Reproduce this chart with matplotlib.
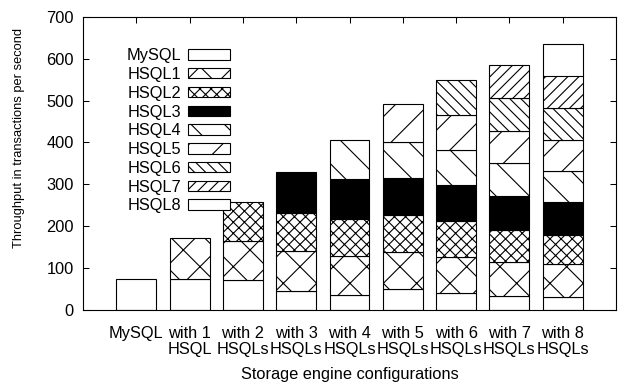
import numpy as np
import matplotlib.pyplot as plt

plt.rcParams['font.family'] = ['Liberation Sans', 'DejaVu Sans']
plt.rcParams['hatch.linewidth'] = 0.8

# DATOS ===================================================================
configs = ['MySQL', 'with 1\nHSQL', 'with 2\nHSQLs', 'with 3\nHSQLs', 'with 4\nHSQLs',
           'with 5\nHSQLs', 'with 6\nHSQLs', 'with 7\nHSQLs', 'with 8\nHSQLs']
names = ['MySQL', 'HSQL1', 'HSQL2', 'HSQL3', 'HSQL4', 'HSQL5', 'HSQL6', 'HSQL7', 'HSQL8']

# throughput of each storage engine (stacked segments)
mysql = [74, 74, 70, 44, 35, 50, 40, 33, 29]
hsql1 = [0, 98, 94, 95, 92, 88, 86, 80, 79]
hsql2 = [0, 0, 94, 93, 90, 87, 85, 78, 71]
hsql3 = [0, 0, 0, 97, 96, 90, 88, 80, 78]
hsql4 = [0, 0, 0, 0, 92, 86, 83, 79, 75]
hsql5 = [0, 0, 0, 0, 0, 91, 84, 78, 74]
hsql6 = [0, 0, 0, 0, 0, 0, 84, 78, 77]
hsql7 = [0, 0, 0, 0, 0, 0, 0, 78, 77]
hsql8 = [0, 0, 0, 0, 0, 0, 0, 0, 76]
series = [mysql, hsql1, hsql2, hsql3, hsql4, hsql5, hsql6, hsql7, hsql8]

# estilos (patrones tipo gnuplot)
colores = ['white', 'white', 'white', 'black', 'white', 'white', 'white', 'white', 'white']
patrones = [None, 'x', 'xxx', None, '\\', '/', '\\\\\\', '///', None]

# GRAFICO =================================================================
fs = 11.8
fig = plt.figure(figsize=(6.18, 3.83), dpi=100)
ax = fig.add_axes([83/618, 1-309.5/383, 533/618, 292.5/383])

x = np.arange(len(configs))
base = np.zeros(len(configs))
for nombre, vals, fc, h in zip(names, series, colores, patrones):
    vals = np.array(vals, dtype=float)
    m = vals > 0
    ax.bar(x[m], vals[m], width=0.75, bottom=base[m], color=fc, hatch=h,
           edgecolor='k', linewidth=0.8, label=nombre)
    base += vals

ax.set_xlim(-1, 9)
ax.set_ylim(0, 700)
ax.set_yticks(np.arange(0, 701, 100))
ax.set_xticks(x)
ax.set_xticklabels(configs, linespacing=1.07)
ax.set_axisbelow(True)
ax.tick_params(direction='in', top=True, right=True, length=4, width=0.75,
               labelsize=fs)
ax.tick_params(axis='x', pad=12)
ax.tick_params(axis='y', pad=6.5)
for s in ax.spines.values():
    s.set_linewidth(0.8)

ax.set_xlabel('Storage engine configurations', fontsize=fs)
ax.xaxis.set_label_coords(0.5, -0.198)
ax.set_ylabel('Throughput in transactions per second', fontsize=9.3)
ax.yaxis.set_label_coords(-0.109, 0.588)

ax.legend(loc='upper right', bbox_to_anchor=(0.276, 0.893), frameon=False,
          markerfirst=False, handlelength=2.55, handleheight=0.6,
          handletextpad=0.45, labelspacing=0.23, borderpad=0, borderaxespad=0,
          fontsize=fs)

plt.savefig('out.png', dpi=100)
